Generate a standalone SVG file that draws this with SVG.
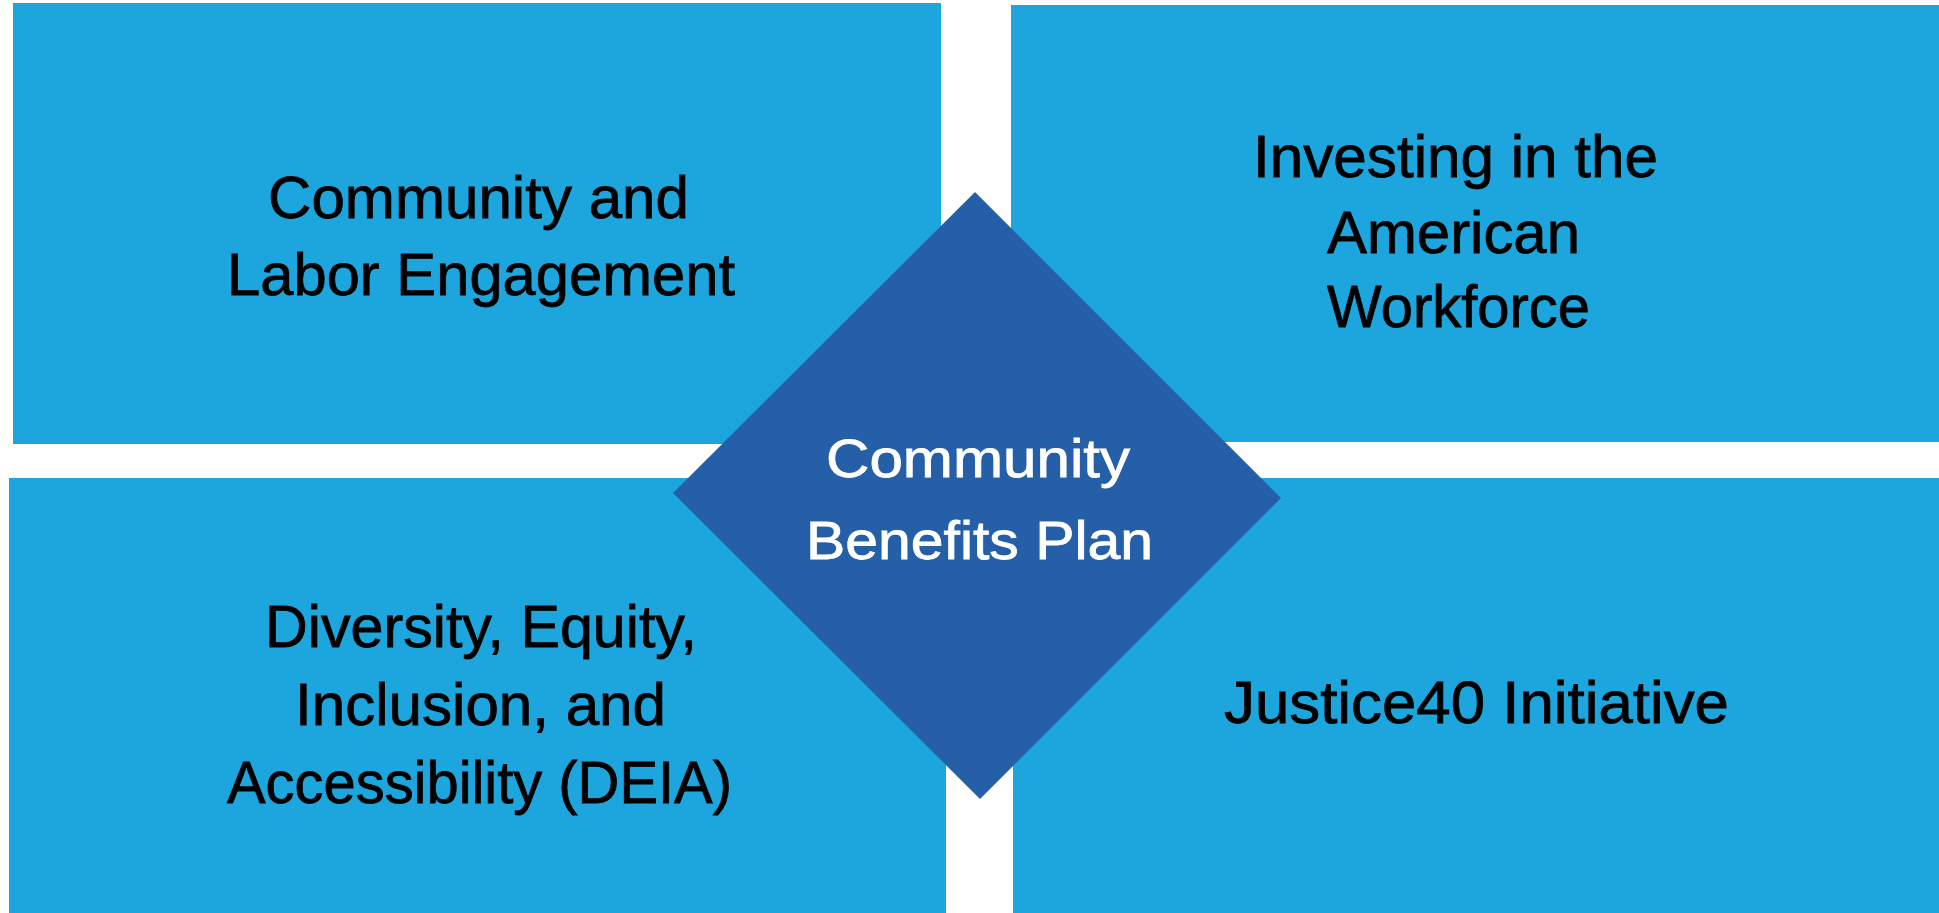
<svg xmlns="http://www.w3.org/2000/svg" width="1939" height="913" viewBox="0 0 1939 913">
<style>
.box{fill:#1DA5DE}
.dia{fill:#255FA8}
.t{font-family:"Liberation Sans",Arial,sans-serif;font-size:60px;fill:#000;stroke:#000;stroke-width:0.8px}
.w{font-family:"Liberation Sans",Arial,sans-serif;font-size:54px;fill:#fff;stroke:#fff;stroke-width:0.8px}
</style>
<rect width="1939" height="913" fill="#fff"/>
<g id="node-community-labor">
<rect class="box" x="13" y="3" width="928" height="441"/>
<text class="t" x="268" y="218" textLength="421" lengthAdjust="spacingAndGlyphs">Community and</text>
<text class="t" x="227" y="295" textLength="508" lengthAdjust="spacingAndGlyphs">Labor Engagement</text>
</g>
<g id="node-investing">
<rect class="box" x="1011" y="5" width="928" height="437"/>
<text class="t" x="1253" y="177" textLength="405" lengthAdjust="spacingAndGlyphs">Investing in the</text>
<text class="t" x="1327" y="253" textLength="253" lengthAdjust="spacingAndGlyphs">American</text>
<text class="t" x="1327" y="327" textLength="263" lengthAdjust="spacingAndGlyphs">Workforce</text>
</g>
<g id="node-deia">
<rect class="box" x="9" y="478" width="937" height="435"/>
<text class="t" x="265" y="647" textLength="432" lengthAdjust="spacingAndGlyphs">Diversity, Equity,</text>
<text class="t" x="295" y="725" textLength="371" lengthAdjust="spacingAndGlyphs">Inclusion, and</text>
<text class="t" x="227" y="803" textLength="505" lengthAdjust="spacingAndGlyphs">Accessibility (DEIA)</text>
</g>
<g id="node-justice40">
<rect class="box" x="1013" y="478" width="926" height="435"/>
<text class="t" x="1224" y="723" textLength="505" lengthAdjust="spacingAndGlyphs">Justice40 Initiative</text>
</g>
<g id="node-cbp">
<polygon class="dia" points="975,192 1281,498 980,799 673,493"/>
<text class="w" x="826" y="477" textLength="304" lengthAdjust="spacingAndGlyphs">Community</text>
<text class="w" x="806" y="559" textLength="347" lengthAdjust="spacingAndGlyphs">Benefits Plan</text>
</g>
<g id="connectors"></g>
</svg>
